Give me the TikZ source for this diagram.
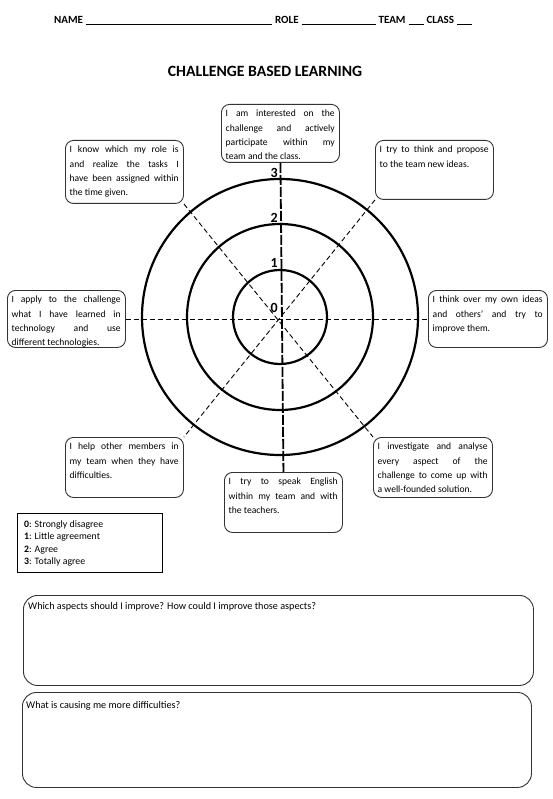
\documentclass[tikz,border=0pt]{standalone}
\usepackage{fontspec}
\setmainfont{Carlito}
\begin{document}
\begin{tikzpicture}[x=1pt,y=-1pt,
  box/.style={draw=black!80, rounded corners=8pt, line width=0.9pt, anchor=north west, inner sep=0pt},
  txt/.style={anchor=north west, inner sep=0pt, font=\fontsize{9.6}{14.3}\selectfont, align=justify},
  ring/.style={line width=2.2pt},
  num/.style={font=\fontsize{14}{15}\selectfont\bfseries, anchor=east, inner sep=0pt},
  conn/.style={dashed, line width=0.9pt, dash pattern=on 5pt off 3pt},
  vconn/.style={line width=1.8pt, dash pattern=on 10pt off 2pt}]
\useasboundingbox (0,0) rectangle (553,799);
\fill[white] (0,0) rectangle (553,799);
\newcommand{\cbox}[6]{%
  \node[box, minimum width=#4, minimum height=#5] (#1) at (#2,#3) {};
  \node[txt, text width=#4pt-9pt] (#1t) at ([xshift=4.5pt,yshift=-6pt]#1.north west) {#6};}
% header
\node[anchor=base west, inner sep=0pt, font=\fontsize{11}{12}\selectfont\bfseries] (hdr) at (54,24)
 {NAME\hspace{3pt}\rule[-1pt]{186pt}{0.8pt}\hspace{3pt}ROLE\hspace{3pt}\rule[-1pt]{74pt}{0.8pt}\hspace{3pt}TEAM\hspace{3pt}\rule[-1pt]{15pt}{0.8pt}\hspace{3pt}CLASS\hspace{3pt}\rule[-1pt]{15pt}{0.8pt}};
\node[font=\fontsize{15.7}{17}\selectfont\bfseries, inner sep=0pt] (title) at (265,71) {CHALLENGE BASED LEARNING};
% boxes
\cbox{t}{221}{104}{118}{58}{I am interested on the\linebreak challenge and actively\linebreak participate within my\linebreak team and the class.}
\cbox{nw}{65}{140}{118}{63}{I know which my role is\linebreak and realize the tasks I\linebreak have been assigned within\linebreak the time given.}
\cbox{ne}{375}{140}{118}{59}{I try to think and propose\linebreak to the team new ideas.}
\cbox{w}{7}{290}{118}{57}{I apply to the challenge\linebreak what I have learned in\linebreak technology and use\linebreak different technologies.}
\cbox{e}{428}{290}{119}{57}{I think over my own ideas\linebreak and others' and try to\linebreak improve them.}
\cbox{sw}{65}{437}{118}{60}{I help other members in\linebreak my team when they have\linebreak difficulties.}
\cbox{s}{224}{472}{118}{60}{I try to speak English\linebreak within my team and with\linebreak the teachers.}
\cbox{se}{373}{437}{119}{60}{I investigate and analyse\linebreak every aspect of the\linebreak challenge to come up with\linebreak a well-founded solution.}
% connectors
\coordinate (c) at (280,317);
\draw[conn] (w.east) -- (e.west);
\draw[conn] (nw.south east) -- (se.north west);
\draw[conn] (ne.south west) -- (sw.north east);
\draw[vconn] (t.south) -- (s.north);
% rings
\draw[ring] (c) circle (138);
\draw[ring] (c) circle (93);
\draw[ring] (c) circle (47);
\node[num] (n3) at (278,173) {3};
\node[num] (n2) at (278,218) {2};
\node[num] (n1) at (278,263) {1};
\node[num] (n0) at (278,308) {0};
% legend
\node[draw=black, line width=0.9pt, anchor=north west, minimum width=145, minimum height=59, inner sep=0pt] (leg) at (17,513) {};
\node[anchor=north west, inner sep=0pt, align=left, font=\fontsize{9.8}{12.6}\selectfont] (legt) at ([xshift=7pt,yshift=-7pt]leg.north west)
 {\textbf{0}: Strongly disagree\\\textbf{1}: Little agreement\\\textbf{2}: Agree\\\textbf{3}: Totally agree};
% bottom boxes
\node[box, minimum width=510, minimum height=90, rounded corners=14pt] (q1) at (23,595) {};
\node[anchor=north west, inner sep=0pt, font=\fontsize{10.2}{12}\selectfont] (q1t) at ([xshift=5pt,yshift=-7pt]q1.north west) {Which aspects should I improve? How could I improve those aspects?};
\node[box, minimum width=509, minimum height=95, rounded corners=14pt] (q2) at (22,692) {};
\node[anchor=north west, inner sep=0pt, font=\fontsize{10.2}{12}\selectfont] (q2t) at ([xshift=4pt,yshift=-9pt]q2.north west) {What is causing me more difficulties?};
\end{tikzpicture}
\end{document}
